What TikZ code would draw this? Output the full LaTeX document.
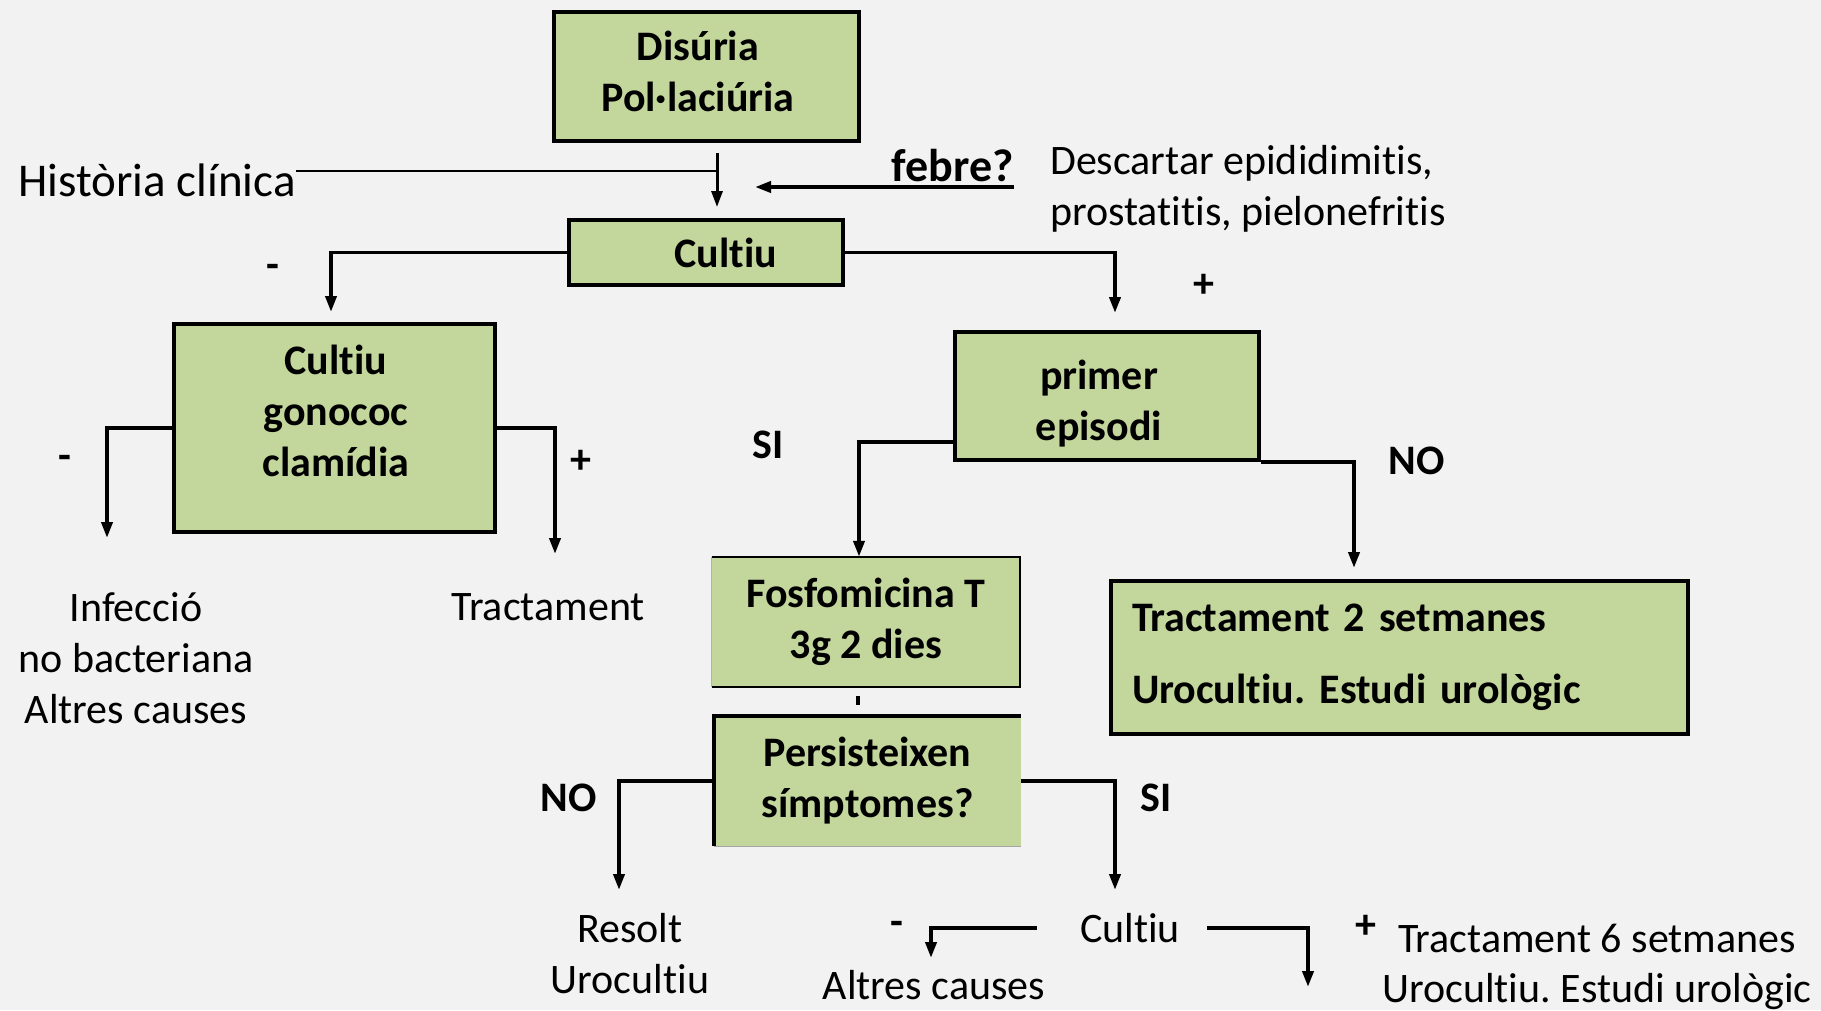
\documentclass[tikz,border=0pt]{standalone}
\usepackage{fontspec}
\setmainfont{Carlito}[RawFeature={-liga;-clig;-calt}]
\usetikzlibrary{arrows.meta}
\definecolor{fons}{HTML}{F2F2F2}
\definecolor{verd}{HTML}{C3D69B}
\newcommand\mida{\fontsize{42}{51}\selectfont}
\frenchspacing
\tikzset{
  caixa/.style={draw, fill=verd, line width=4pt, inner sep=0pt, align=center, font=\mida\bfseries},
  ple/.style={fill=verd, inner sep=0pt, align=center, font=\mida\bfseries},
  txt/.style={inner sep=0pt, align=center, font=\mida},
  sgn/.style={inner sep=0pt, font=\mida\bfseries},
  fl/.style={line width=3.8pt, -{Triangle[length=16pt,width=11pt]}},
}
\begin{document}
\begin{tikzpicture}[x=1pt, y=-1pt, line join=miter]
	\fill[fons] (0,0) rectangle (1821,1010);
	\useasboundingbox (0,0) rectangle (1821,1010);
	% caixes
	\node[caixa, minimum width=305, minimum height=129] (dis) at (706.5,76.5) {};
	\node[txt, font=\mida\bfseries] (distxt) at (698,71) {Disúria\\Pol·laciúria};
	\node[caixa, minimum width=274, minimum height=65] (cult) at (706,252.5) {};
	\node[txt, font=\mida\bfseries] (culttxt) at (726,253) {Cultiu};
	\node[caixa, minimum width=321, minimum height=208] (gono) at (334.5,428) {};
	\node[txt, font=\mida\bfseries] (gonotxt) at (336,411) {Cultiu\\gonococ\\clamídia};
	\node[caixa, minimum width=304, minimum height=128] (prim) at (1107,396) {};
	\node[txt, font=\mida\bfseries] (primtxt) at (1099,404) {primer\\episodi};
	\node[ple, minimum width=308, minimum height=130] (fosf) at (866,622) {Fosfomicina T\\3g 2 dies};
	\draw[line width=1.5pt] (fosf.north west) -- (fosf.north east) -- (fosf.south east) -- (fosf.south west);
	\draw[line width=1pt, gray!60] (fosf.north west) -- (fosf.south west);
	\node[ple, minimum width=307, minimum height=130] (pers) at (867.5,781) {Persisteixen\\símptomes?};
	\draw[line width=4pt] (pers.south west) -- (pers.north west) -- (pers.north east);
	\draw[line width=1pt, gray!70] (pers.south west) -- (pers.south east);
	\node[caixa, minimum width=577, minimum height=153, text width=535, align=left] (tr2) at (1399.5,657.5)
		{Tractament 2 setmanes\\[21pt]Urocultiu. Estudi urològic};
	% textos
	\node[txt, anchor=east, font=\fontsize{47}{56}\selectfont] (hist) at (296,180) {Història clínica};
	\node[sgn, anchor=base east, font=\fontsize{46}{55}\selectfont\bfseries] (febre) at (1014,181) {febre?};
	\node[txt, anchor=west, align=left] (desc) at (1050,189) {Descartar epididimitis,\\prostatitis, pielonefritis};
	\node[txt] (inf) at (136,658) {Infecció\\no bacteriana\\Altres causes};
	\node[txt] (trac) at (548,607) {Tractament};
	\node[txt] (res) at (630,954) {Resolt\\Urocultiu};
	\node[txt] (cult2) at (1130,928) {Cultiu};
	\node[txt] (altr) at (934,985) {Altres causes};
	\node[txt, font=\fontsize{42}{50}\selectfont] (tr6) at (1597,967) {Tractament 6 setmanes\\Urocultiu. Estudi urològic};
	\foreach \n/\x/\y/\s in {m1/273/271/-, p1/1204/286/+, m2/65/462/-, p2/581/462/+, si1/768/445/SI,
		no1/1417/461/NO, no2/569/798/NO, si2/1156/798/SI, m3/897/928/-, p3/1366/927/+}
		\node[sgn] (\n) at (\x,\y) {\s};
	% fletxes
	\coordinate (nus) at (717,171);
	\coordinate (fi) at (755,187);
	\coordinate (g1) at (107,538);
	\coordinate (g2) at (555,554);
	\coordinate (r1) at (619,890);
	\coordinate (r2) at (1115,890);
	\coordinate (c1) at (931,958);
	\coordinate (c2) at (1308,987);
	\draw[line width=2pt] (hist.east |- nus) -- (nus);
	\draw[fl, line width=3pt, shorten <=10pt, shorten >=11pt] (dis.south -| nus) -- (cult.north -| nus);
	\draw[fl] (febre.base east |- fi) -- (fi);
	\draw[fl, shorten >=10pt] (cult.west) -| ([xshift=-3.5pt]gono.north);
	\draw[fl, shorten >=17pt] (cult.east) -| ([xshift=8pt]prim.north);
	\draw[fl] (gono.west) -| (g1);
	\draw[fl] (gono.east) -| (g2);
	\draw[fl] ([yshift=-46pt]prim.west) -| ([xshift=-7pt]fosf.north);
	\draw[fl, shorten >=11pt] (prim.south east) -| ([xshift=-45.5pt]tr2.north);
	\draw[line width=4.5pt, shorten <=9pt, shorten >=11pt] ([xshift=-8pt]fosf.south) -- ([xshift=-8pt]fosf.south |- pers.north);
	\draw[fl] (pers.west) -| (r1);
	\draw[fl] (pers.east) -| (r2);
	\draw[fl, shorten <=43pt] (cult2.west) -| (c1);
	\draw[fl, shorten <=27pt] (cult2.east) -| (c2);
\end{tikzpicture}
\end{document}
